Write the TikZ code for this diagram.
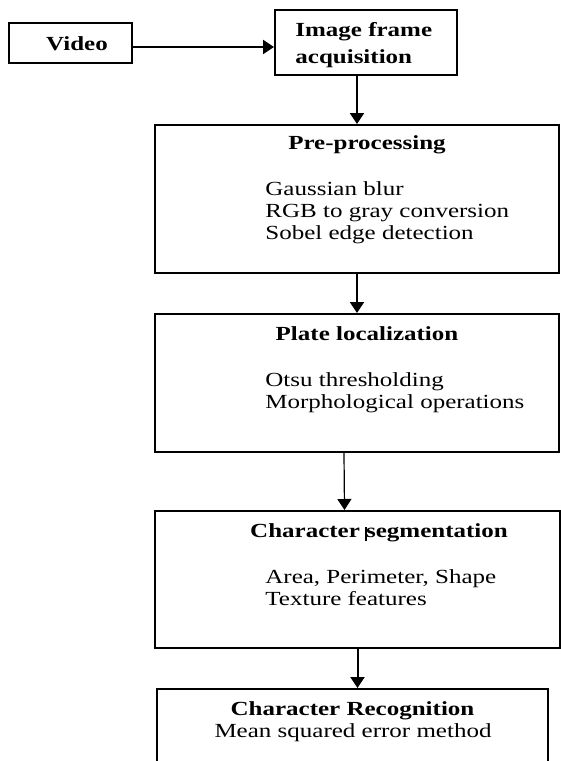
\documentclass[tikz,border=0pt]{standalone}
\usepackage{fontspec}
\setmainfont[FakeStretch=1.25]{Liberation Serif}
\usetikzlibrary{arrows.meta}
\tikzset{
  box/.style={draw, line width=1pt, inner sep=0pt},
  head/.style={font=\fontsize{10pt}{11pt}\selectfont\bfseries, inner sep=0pt, anchor=base},
  line/.style={font=\fontsize{10pt}{11pt}\selectfont, inner sep=0pt, anchor=base},
  items/.style={font=\fontsize{10pt}{11pt}\selectfont, align=left, inner sep=0pt, anchor=base west},
  flow/.style={-{Triangle[length=5.5pt,width=7pt]}, line width=1pt},
}
\begin{document}
\begin{tikzpicture}[x=0.5pt,y=-0.5pt]
\clip (0,0) rectangle (561,761);
% boxes
\node[box, minimum width=61.5pt, minimum height=20pt] (video) at (70.5,43) {};
\node[box, minimum width=91pt, minimum height=32.5pt] (frame) at (366,42.5) {};
\node[box, minimum width=202pt, minimum height=74pt] (prep) at (357,199) {};
\node[box, minimum width=202pt, minimum height=69pt] (plate) at (357,383) {};
\node[box, minimum width=202.5pt, minimum height=68.5pt] (seg) at (357.5,579.5) {};
\node[box, minimum width=195.5pt, minimum height=60pt, anchor=north] (recog) at (352.5,688) {};
% texts (multi-line nodes sit on their last baseline)
\node[head] (videotxt) at (77,50) {Video};
\node[items, font=\fontsize{10pt}{13.5pt}\selectfont\bfseries] (frametxt) at (295,63) {Image frame\\acquisition};
\node[head] (preptitle) at (367,149) {Pre-processing};
\node[items] (prepitems) at (265,239) {Gaussian blur\\RGB to gray conversion\\Sobel edge detection};
\node[head] (platetitle) at (367,340) {Plate localization};
\node[items] (plateitems) at (265,408) {Otsu thresholding\\Morphological operations};
\node[head] (segtitle) at (379,537) {Character {\rlap{\kern-0.4pt\rule[-2pt]{0.6pt}{7pt}}s}egmentation};
\node[items] (segitems) at (265,605) {Area, Perimeter, Shape\\Texture features};
\node[head] (recogtitle) at (352.5,715) {Character Recognition};
\node[line] (recogline) at (353,737) {Mean squared error method};
% arrows
\draw[flow] ([yshift=-2pt]video.east) -- ([yshift=-2pt]video.east -| frame.west);
\draw[flow] (prep.north |- frame.south) -- (prep.north);
\draw[flow] (prep.south) -- (plate.north);
\draw[flow, line width=0.6pt] ([xshift=-6.5pt]plate.south) -- ([xshift=-6.5pt]seg.north);
\draw[flow] (seg.south) -- (seg.south |- recog.north);
\end{tikzpicture}
\end{document}
